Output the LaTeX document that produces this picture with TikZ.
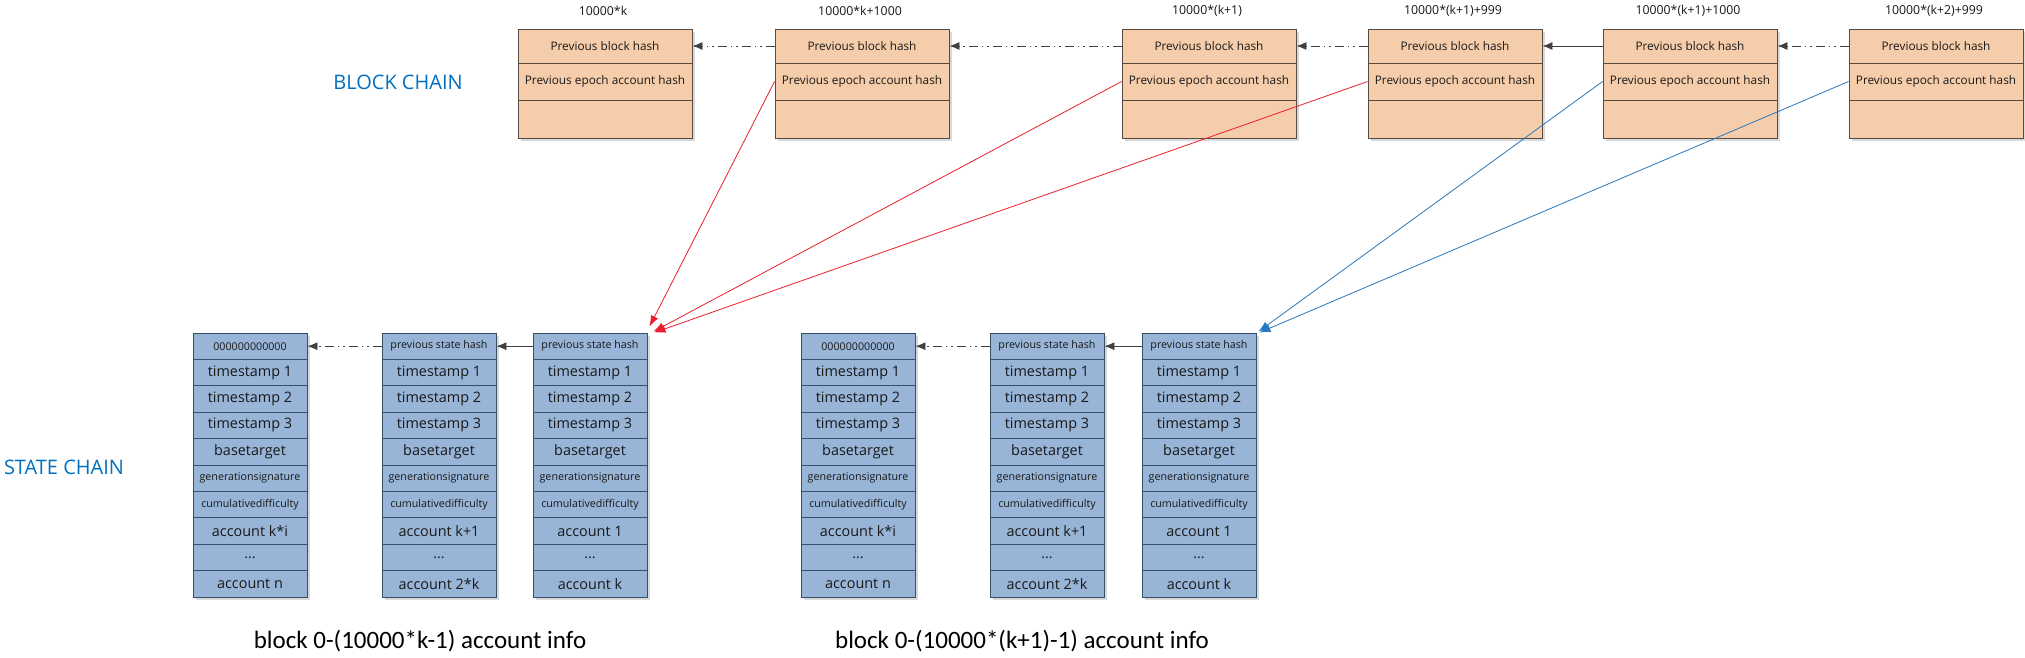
\documentclass[tikz,border=0pt]{standalone}
\usepackage{fontspec}
\setmainfont{Open Sans}
\newfontfamily\calib{Carlito}
\usetikzlibrary{arrows.meta,calc}
\definecolor{peach}{RGB}{246,205,170}
\definecolor{peachline}{RGB}{90,75,65}
\definecolor{stblue}{RGB}{152,181,216}
\definecolor{stline}{RGB}{55,80,105}
\definecolor{lblue}{RGB}{0,112,192}
\definecolor{redarr}{RGB}{235,30,45}
\definecolor{bluearr}{RGB}{40,120,190}
\definecolor{txt}{RGB}{25,25,25}
\definecolor{arrgray}{RGB}{64,64,64}
\tikzset{
  blkrow/.style={draw=peachline, fill=peach, line width=0.9pt, minimum width=174pt, inner sep=0pt, text=txt, font=\fontsize{11.8}{14}\selectfont},
  cell/.style={draw=stline, fill=stblue, line width=0.9pt, minimum width=114pt, minimum height=26.4pt, inner sep=0pt, text=txt},
  rowbig/.style={font=\fontsize{14.4}{16}\selectfont},
  rowmid/.style={font=\fontsize{10.7}{12}\selectfont},
  rowsmall/.style={font=\fontsize{10.7}{12}\selectfont},
  toplabel/.style={text=txt, font=\fontsize{12.3}{14}\selectfont},
  chainlink/.style={draw=arrgray, line width=0.9pt, -{Latex[length=10pt,width=8pt]}},
  dashdot/.style={dash pattern=on 9pt off 4pt on 1.5pt off 4pt on 1.5pt off 4pt},
  redlink/.style={draw=redarr, line width=0.8pt, -{Latex[length=11pt,width=8pt]}},
  bluelink/.style={draw=bluearr, line width=0.8pt, -{Latex[length=11pt,width=8pt]}},
  chainname/.style={text=lblue, font=\fontsize{20}{24}\selectfont},
  infolabel/.style={text=black, font=\calib\fontsize{25}{30}\selectfont},
}
\newcommand\blockbox[3]{%
  \fill[black!15] (#2+3,32) rectangle (#2+177,141);
  \node[blkrow, minimum height=34pt] (#1a) at (#2+87,46) {Previous block hash};
  \node[blkrow, minimum height=37pt] (#1b) at (#2+87,81.5) {Previous epoch account hash};
  \node[blkrow, minimum height=38pt] (#1c) at (#2+87,119) {};
  \node[toplabel] (#1l) at (#2+85,11) {#3};
}
\newcommand\statecol[5]{%
  \fill[black!15] (#2+3,336) rectangle (#2+117,600);
  \node[cell,rowmid] (#1r1) at (#2+57,346.2) {#3};
  \node[cell,rowbig] (#1r2) at (#2+57,372.6) {timestamp 1};
  \node[cell,rowbig] (#1r3) at (#2+57,399) {timestamp 2};
  \node[cell,rowbig] (#1r4) at (#2+57,425.4) {timestamp 3};
  \node[cell,rowbig] (#1r5) at (#2+57,451.8) {basetarget};
  \node[cell,rowsmall] (#1r6) at (#2+57,478.2) {generationsignature};
  \node[cell,rowsmall] (#1r7) at (#2+57,504.6) {cumulativedifficulty};
  \node[cell,rowbig] (#1r8) at (#2+57,531) {#4};
  \node[cell,rowbig] (#1r9) at (#2+57,557.4) {...};
  \node[cell,rowbig] (#1r10) at (#2+57,583.8) {#5};
}
\begin{document}
\begin{tikzpicture}[x=1pt,y=-1pt]
\useasboundingbox[fill=white] (0,0) rectangle (2025,657);
% block chain
\blockbox{bA}{518}{10000*k}
\blockbox{bB}{775}{10000*k+1000}
\blockbox{bC}{1122}{10000*(k+1)}
\blockbox{bD}{1368}{10000*(k+1)+999}
\blockbox{bE}{1603}{10000*(k+1)+1000}
\blockbox{bF}{1849}{10000*(k+2)+999}
% state chains
\statecol{sA}{193}{000000000000}{account k*i}{account n}
\statecol{sB}{382}{previous state hash}{account k+1}{account 2*k}
\statecol{sC}{533}{previous state hash}{account 1}{account k}
\statecol{sD}{801}{000000000000}{account k*i}{account n}
\statecol{sE}{990}{previous state hash}{account k+1}{account 2*k}
\statecol{sF}{1142}{previous state hash}{account 1}{account k}
% labels
\node[chainname] (bclabel) at (398,82) {BLOCK CHAIN};
\node[chainname] (sclabel) at (64,467) {STATE CHAIN};
\node[infolabel] (info1) at (420,641) {block 0-(10000*k-1) account info};
\node[infolabel] (info2) at (1022,641) {block 0-(10000*(k+1)-1) account info};
% block links
\draw[chainlink,dashdot] (bBa.west) -- (bAa.east);
\draw[chainlink,dashdot] (bCa.west) -- (bBa.east);
\draw[chainlink,dashdot] (bDa.west) -- (bCa.east);
\draw[chainlink] (bEa.west) -- (bDa.east);
\draw[chainlink,dashdot] (bFa.west) -- (bEa.east);
% state links
\draw[chainlink,dashdot] (sBr1.west) -- (sAr1.east);
\draw[chainlink] (sCr1.west) -- (sCr1.west -| sBr1.east);
\draw[chainlink,dashdot] (sEr1.west) -- (sDr1.east);
\draw[chainlink] (sFr1.west) -- (sFr1.west -| sEr1.east);
% epoch links
\draw[redlink] (bBb.west) -- ($(sCr1.north east)+(2,-6)$);
\draw[redlink] (bCb.west) -- ($(sCr1.north east)+(6,-1)$);
\draw[redlink] (bDb.west) -- ($(sCr1.north east)+(7,0)$);
\draw[bluelink] (bEb.west) -- ($(sFr1.north east)+(2,-1)$);
\draw[bluelink] (bFb.west) -- ($(sFr1.north east)+(3,0)$);
\end{tikzpicture}
\end{document}
